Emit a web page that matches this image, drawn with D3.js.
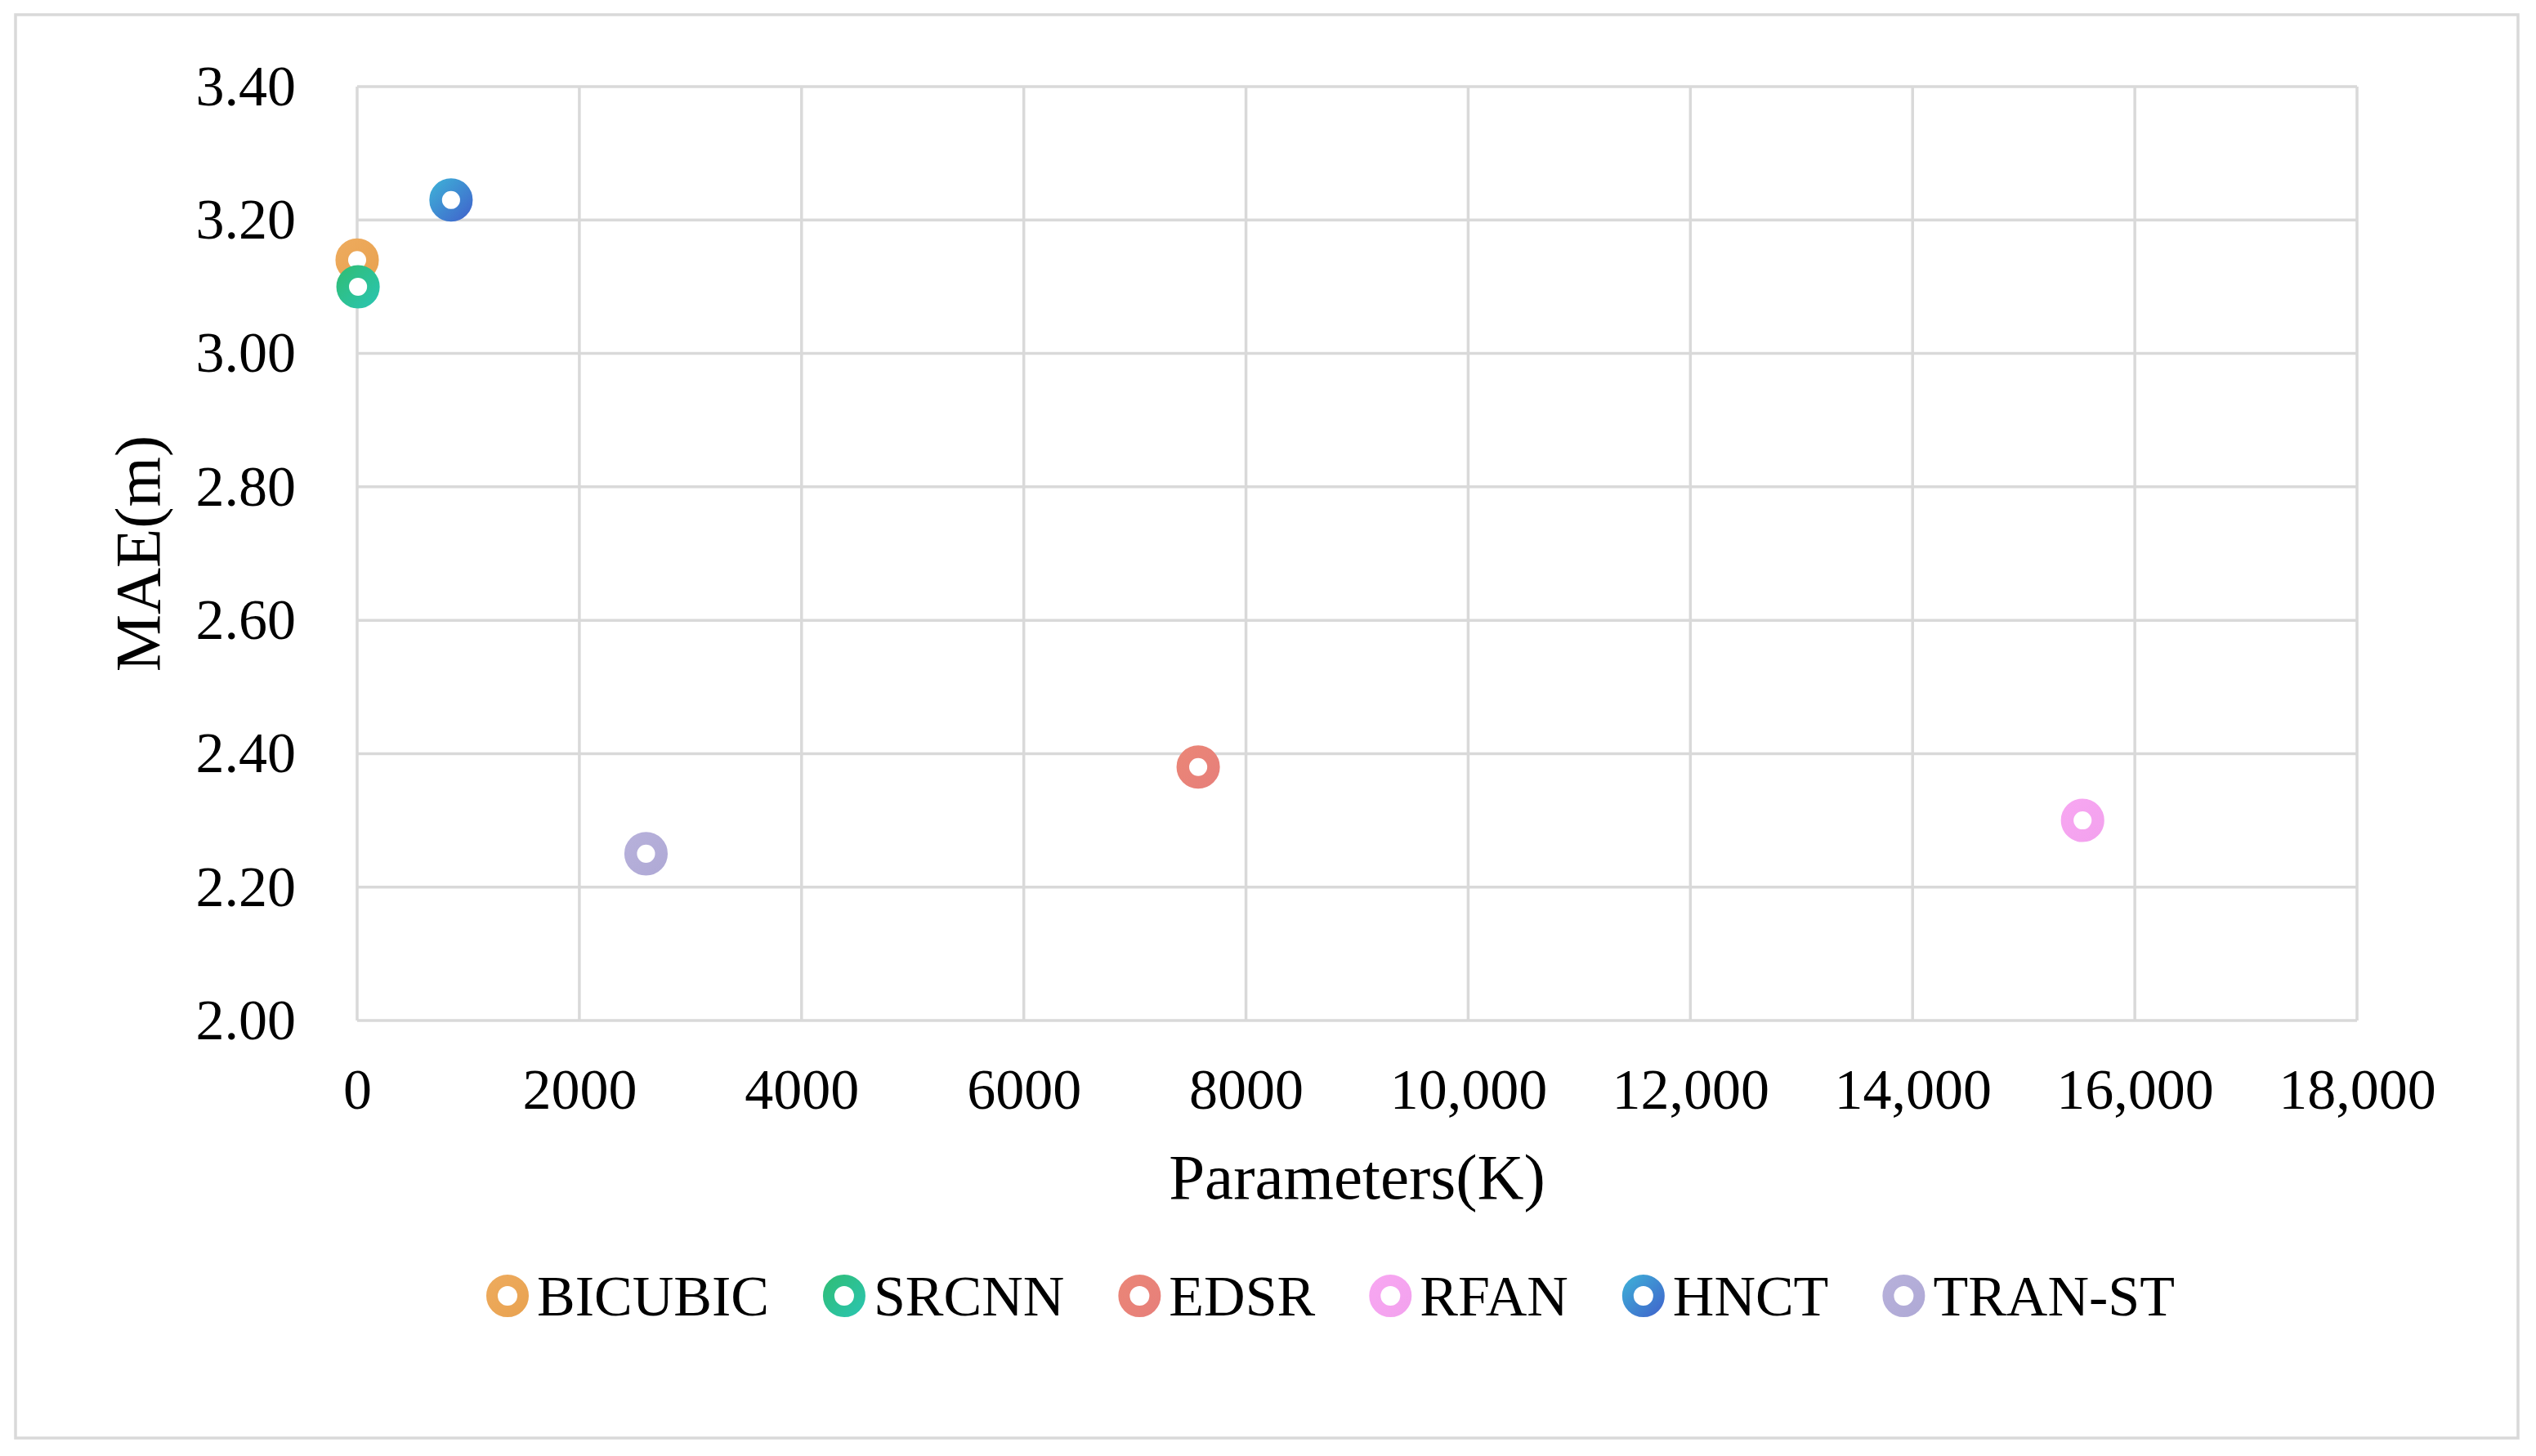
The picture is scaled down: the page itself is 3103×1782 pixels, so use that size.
<!DOCTYPE html>
<html>
<head>
<meta charset="utf-8">
<script src="https://cdn.jsdelivr.net/npm/d3@7"></script>
<style>
  html, body { margin: 0; padding: 0; background: #ffffff; }
  svg { display: block; }
  text { font-family: "Liberation Serif", "Times New Roman", serif; fill: #000; }
</style>
</head>
<body>
<script>
// ---- data ----
const models = ["BICUBIC", "SRCNN", "EDSR", "RFAN", "HNCT", "TRAN-ST"];
const params = [0, 8, 7570, 15530, 845, 2600];          // Parameters (K)
const mae = [3.14, 3.10, 2.38, 2.30, 3.23, 2.25];        // MAE (m)
const colorStart = ["#EDAA5C", "#2FBE7C", "#EA8577", "#F7A6F1", "#3EA8D6", "#B6B0DA"];
const colorEnd   = ["#E9A352", "#2BC4AA", "#E7807A", "#F3A2EE", "#406CCD", "#B0AAD6"];
const xTicks = [0, 2000, 4000, 6000, 8000, 10000, 12000, 14000, 16000, 18000];
const xTickLabels = ["0", "2000", "4000", "6000", "8000", "10,000", "12,000", "14,000", "16,000", "18,000"];
const yTicks = [2.00, 2.20, 2.40, 2.60, 2.80, 3.00, 3.20, 3.40];

const W = 3103, H = 1782;
const plot = { left: 437, right: 2884, top: 106, bottom: 1249 };

const svg = d3.select("body").append("svg").attr("width", W).attr("height", H);

// outer chart border
svg.append("rect").attr("x", 19).attr("y", 18).attr("width", 3062).attr("height", 1742)
  .attr("fill", "#fff").attr("stroke", "#d9d9d9").attr("stroke-width", 3.5);

const x = d3.scaleLinear().domain([0, 18000]).range([plot.left, plot.right]);
const y = d3.scaleLinear().domain([2.0, 3.4]).range([plot.bottom, plot.top]);

// gradients
const defs = svg.append("defs");
models.forEach((m, i) => {
  const g = defs.append("linearGradient").attr("id", "grad" + i)
    .attr("x1", "0%").attr("y1", "0%").attr("x2", "100%").attr("y2", "100%");
  g.append("stop").attr("offset", "0%").attr("stop-color", colorStart[i]);
  g.append("stop").attr("offset", "100%").attr("stop-color", colorEnd[i]);
});

// gridlines
const grid = svg.append("g");
grid.selectAll("line.h").data(yTicks).join("line").attr("class", "h")
  .attr("x1", plot.left).attr("x2", plot.right)
  .attr("y1", d => y(d)).attr("y2", d => y(d))
  .attr("stroke", "#d9d9d9").attr("stroke-width", 3.5);
grid.selectAll("line.v").data(xTicks).join("line").attr("class", "v")
  .attr("y1", plot.top).attr("y2", plot.bottom)
  .attr("x1", d => x(d)).attr("x2", d => x(d))
  .attr("stroke", "#d9d9d9").attr("stroke-width", 3.5);

// axes (labels only)
const yAxis = d3.axisLeft(y).tickValues(yTicks).tickFormat(d3.format(".2f")).tickSize(0).tickPadding(75);
const gy = svg.append("g").attr("transform", `translate(${plot.left},0)`).call(yAxis);
gy.select(".domain").remove();
gy.selectAll("text").attr("font-size", 70).attr("font-family", "Liberation Serif").attr("fill", "#000");

const xAxis = d3.axisBottom(x).tickValues(xTicks).tickFormat((d, i) => xTickLabels[i]).tickSize(0).tickPadding(58);
const gx = svg.append("g").attr("transform", `translate(0,${plot.bottom})`).call(xAxis);
gx.select(".domain").remove();
gx.selectAll("text").attr("font-size", 70).attr("font-family", "Liberation Serif").attr("fill", "#000");

// axis titles
svg.append("text").attr("x", (plot.left + plot.right) / 2).attr("y", 1440)
  .attr("text-anchor", "middle").attr("dominant-baseline", "central")
  .attr("font-size", 79).text("Parameters(K)");
svg.append("text").attr("transform", `translate(168,${(plot.top + plot.bottom) / 2}) rotate(-90)`)
  .attr("text-anchor", "middle").attr("dominant-baseline", "central")
  .attr("font-size", 79).text("MAE(m)");

// points
const pts = models.map((m, i) => ({ m, i, px: params[i], v: mae[i] }));
svg.append("g").selectAll("circle").data(pts).join("circle")
  .attr("cx", d => x(d.px)).attr("cy", d => y(d.v))
  .attr("r", 18.8).attr("fill", "#fff")
  .attr("stroke", d => `url(#grad${d.i})`).attr("stroke-width", 15.5);

// legend
const legend = svg.append("g");
let lx = 621;
const ly = 1586;
pts.forEach(d => {
  legend.append("circle").attr("cx", lx).attr("cy", ly).attr("r", 19)
    .attr("fill", "#fff").attr("stroke", `url(#grad${d.i})`).attr("stroke-width", 14);
  const t = legend.append("text").attr("x", lx + 36).attr("y", ly)
    .attr("dominant-baseline", "central").attr("font-size", 70).text(d.m);
  const w = t.node().getComputedTextLength();
  lx = lx + 36 + w + 92;
});
</script>
</body>
</html>
